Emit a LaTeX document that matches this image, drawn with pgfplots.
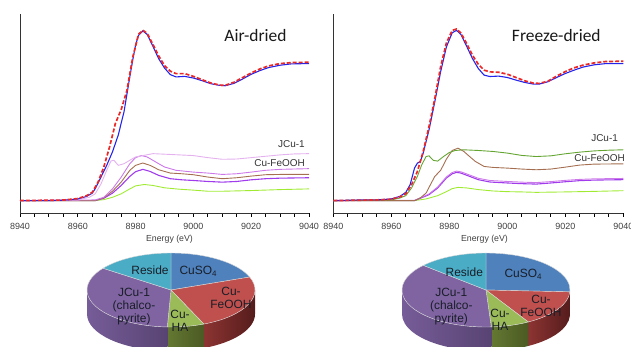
\documentclass[border=0pt]{standalone}
\usepackage{pgfplots}
\pgfplotsset{compat=1.18}
\usepackage{fontspec}
\setmainfont{Liberation Sans}
\newfontfamily\calfont{Carlito}

\definecolor{cblue}{RGB}{35,35,235}
\definecolor{cred}{RGB}{235,40,40}
\definecolor{clpink}{RGB}{228,178,238}
\definecolor{corchid}{RGB}{205,120,232}
\definecolor{cbrown}{RGB}{165,110,80}
\definecolor{cviolet}{RGB}{160,60,235}
\definecolor{clime}{RGB}{160,235,50}
\definecolor{colive}{RGB}{100,165,50}
\definecolor{pblue}{RGB}{79,129,189}
\definecolor{pred}{RGB}{192,80,77}
\definecolor{pgreen}{RGB}{155,187,89}
\definecolor{ppurple}{RGB}{128,100,162}
\definecolor{paqua}{RGB}{75,172,198}
\definecolor{ptext}{RGB}{25,30,40}
\definecolor{sredA}{RGB}{140,52,50}
\definecolor{sredB}{RGB}{85,28,28}
\definecolor{sgreenA}{RGB}{100,120,50}
\definecolor{sgreenB}{RGB}{75,90,35}
\definecolor{spurA}{RGB}{118,92,152}
\definecolor{spurB}{RGB}{88,68,115}
\definecolor{sblueA}{RGB}{60,95,140}
\definecolor{sblueB}{RGB}{50,80,120}

\pgfplotsset{spec/.style={scale only axis, width=289bp, height=199bp,
  xmin=8940, xmax=9040, ymin=-0.09, ymax=1.355,
  axis x line=bottom, axis y line=left,
  axis line style={-, line width=0.9pt, color=black!80},
  xtick={8940,8960,...,9040}, minor x tick num=3, ytick=\empty,
  tick align=outside, major tick length=4bp, minor tick length=4bp,
  major tick style={draw=black, line width=1pt},
  minor tick style={draw=black, line width=1pt},
  xticklabel style={font=\fontsize{9}{10}\selectfont, text=black!75, yshift=-3bp},
  /pgf/number format/assume math mode=true, /pgf/number format/1000 sep={},
  clip=false}}

% pie helpers: #1 cx, #2 cy, #3 start angle, #4 end angle, #5 colour
\newcommand\pietop[5]{%
  \fill[#5, draw=white!85!black, line width=0.4pt] (axis cs:#1,#2) -- ([shift={(#3:84bp and 37bp)}]axis cs:#1,#2)
    arc[start angle=#3, end angle=#4, x radius=84bp, y radius=37bp] -- cycle;}
\newcommand\pieside[6]{%
  \shade[left color=#5, right color=#6] ([shift={(#3:84bp and 37bp)}]axis cs:#1,#2)
    arc[start angle=#3, end angle=#4, x radius=84bp, y radius=37bp] -- ++(0,-24bp)
    arc[start angle=#4, end angle=#3, x radius=84bp, y radius=37bp] -- cycle;}

\begin{document}
\begin{tikzpicture}
\useasboundingbox (0,0) rectangle (631bp,347bp);
\clip (0,0) rectangle (631bp,347bp);

% ---------------- Air-dried ----------------
\begin{axis}[spec, at={(20bp,134bp)}, anchor=south west]
\addplot[clime, line width=0.9pt] table {
8940 0
8966 0
8969 0.007
8972 0.024
8975 0.049
8978 0.085
8980 0.107
8983 0.117
8986 0.110
8990 0.093
8995 0.083
9000 0.076
9005 0.068
9010 0.068
9020 0.073
9030 0.080
9040 0.085
};
\addplot[cviolet, line width=1.1pt] table {
8940 0
8966 0
8969 0.017
8972 0.054
8975 0.110
8978 0.176
8980 0.210
8982.5 0.227
8985 0.212
8988 0.183
8992 0.159
8996 0.151
9000 0.146
9005 0.139
9010 0.134
9015 0.139
9020 0.151
9025 0.159
9030 0.163
9040 0.166
};
\addplot[cbrown, line width=0.9pt] table {
8940 0
8966 0
8969 0.020
8972 0.068
8975 0.134
8978 0.220
8980 0.256
8982.5 0.273
8985 0.256
8988 0.224
8992 0.200
8996 0.195
9000 0.188
9005 0.171
9010 0.159
9015 0.166
9020 0.178
9025 0.188
9030 0.190
9040 0.190
};
\addplot[corchid, line width=0.9pt] table {
8940 0
8966 0.005
8969 0.024
8972 0.085
8975 0.170
8978 0.268
8980 0.312
8982 0.327
8984 0.317
8987 0.280
8990 0.244
8994 0.220
9000 0.207
9005 0.200
9010 0.190
9015 0.195
9020 0.207
9025 0.220
9030 0.227
9040 0.232
};
\addplot[clpink, line width=0.9pt] table {
8940 0
8960 0.005
8964 0.024
8966 0.049
8968 0.120
8970 0.220
8971.5 0.288
8972.5 0.293
8974 0.256
8976 0.268
8978 0.293
8980 0.317
8983 0.329
8986 0.341
8990 0.337
8995 0.332
9000 0.327
9005 0.312
9010 0.300
9015 0.302
9020 0.312
9025 0.322
9030 0.332
9035 0.339
9040 0.341
};
\addplot[cblue, line width=1.1pt] table {
8940 0
8950 0
8955 0.003
8960 0.012
8963 0.030
8965 0.054
8966 0.085
8968 0.170
8970 0.256
8972 0.354
8974 0.476
8976 0.646
8978 0.900
8979 1.020
8980 1.130
8981 1.200
8982.5 1.232
8984 1.207
8986 1.120
8988 1.030
8990 0.963
8992 0.915
8994 0.898
8997 0.902
9000 0.890
9003 0.871
9006 0.849
9009 0.837
9011 0.834
9014 0.851
9017 0.883
9020 0.917
9023 0.944
9026 0.966
9030 0.983
9034 0.993
9040 0.995
};
\addplot[cred, line width=1.7pt, dash pattern=on 4pt off 2pt] table {
8940 0
8955 0.004
8960 0.015
8963 0.035
8965 0.060
8967 0.134
8969 0.244
8971 0.390
8973 0.560
8975 0.660
8977 0.800
8979 1.040
8981 1.207
8982.5 1.237
8984 1.215
8986 1.134
8988 1.050
8990 0.980
8992 0.940
8994 0.922
8997 0.922
9000 0.902
9003 0.878
9006 0.854
9009 0.839
9011 0.837
9014 0.859
9017 0.893
9020 0.927
9023 0.956
9026 0.978
9030 0.995
9034 1.002
9040 1.005
};
\node[anchor=east, font=\fontsize{10}{11}\selectfont, text=black!80, inner sep=0pt] at (axis cs:9038.6,0.41) {JCu-1};
\node[anchor=east, font=\fontsize{10}{11}\selectfont, text=black!80, inner sep=0pt] at (axis cs:9038.6,0.271) {Cu-FeOOH};
\end{axis}

% ---------------- Freeze-dried ----------------
\begin{axis}[spec, at={(333.3bp,134bp)}, anchor=south west, width=290bp]
\addplot[clime, line width=0.9pt] table {
8940 0
8968 0
8972 0.012
8976 0.036
8979 0.065
8981 0.087
8983 0.096
8986 0.092
8990 0.080
8995 0.070
9000 0.065
9005 0.063
9010 0.060
9020 0.063
9030 0.067
9040 0.072
};
\addplot[cviolet, line width=1.1pt] table {
8940 0
8968 0
8970 0.017
8973 0.043
8976 0.092
8979 0.164
8981 0.195
8982.5 0.205
8984 0.200
8987 0.176
8990 0.152
8994 0.135
9000 0.128
9005 0.123
9010 0.120
9015 0.128
9020 0.137
9025 0.145
9030 0.149
9040 0.152
};
\addplot[corchid, line width=0.9pt] table {
8940 0
8968 0.002
8970 0.020
8973 0.048
8976 0.099
8979 0.172
8981 0.204
8982.5 0.214
8984 0.209
8987 0.186
8990 0.162
8994 0.146
9000 0.139
9005 0.134
9010 0.131
9015 0.138
9020 0.147
9025 0.154
9030 0.158
9040 0.161
};
\addplot[cbrown, line width=0.9pt] table {
8940 0
8968 0
8970 0.019
8972 0.055
8973.5 0.116
8975 0.176
8977 0.219
8979 0.301
8981 0.364
8983 0.381
8985 0.357
8987 0.320
8989 0.284
8992 0.248
8995 0.241
9000 0.236
9005 0.229
9010 0.224
9015 0.229
9020 0.243
9025 0.258
9030 0.265
9040 0.267
};
\addplot[colive, line width=0.9pt] table {
8940 0
8960 0.005
8963 0.019
8965 0.036
8967 0.092
8969 0.176
8970.5 0.260
8972 0.320
8973 0.325
8974.5 0.292
8976 0.287
8978 0.320
8980 0.349
8982 0.364
8985 0.369
8990 0.364
8995 0.357
9000 0.345
9005 0.328
9010 0.320
9015 0.325
9020 0.340
9025 0.352
9030 0.361
9035 0.366
9040 0.369
};
\addplot[cblue, line width=1.1pt] table {
8940 0
8950 0.005
8955 0.005
8960 0.012
8963 0.031
8965 0.060
8966.5 0.116
8968 0.236
8969 0.272
8970 0.284
8971 0.345
8973 0.513
8975 0.718
8977 0.935
8979 1.116
8981 1.219
8982.5 1.236
8984 1.207
8986 1.120
8988 1.031
8990 0.959
8992 0.911
8994 0.901
8997 0.904
9000 0.894
9003 0.875
9006 0.858
9009 0.846
9011 0.846
9014 0.863
9017 0.894
9020 0.923
9023 0.947
9026 0.969
9030 0.986
9034 0.995
9040 0.995
};
\addplot[cred, line width=1.7pt, dash pattern=on 4pt off 2pt] table {
8940 0
8955 0.005
8960 0.010
8963 0.027
8965 0.050
8967 0.116
8969 0.212
8971 0.357
8973 0.537
8975 0.742
8977 0.971
8979 1.145
8981 1.236
8982.5 1.246
8984 1.217
8986 1.140
8988 1.055
8990 0.990
8992 0.947
8994 0.935
8997 0.932
9000 0.918
9003 0.894
9006 0.870
9009 0.853
9011 0.851
9014 0.867
9017 0.904
9020 0.937
9023 0.964
9026 0.983
9030 1.000
9034 1.010
9040 1.012
};
\node[anchor=east, font=\fontsize{10}{11}\selectfont, text=black!80, inner sep=0pt] at (axis cs:9038.2,0.455) {JCu-1};
\node[anchor=east, font=\fontsize{10}{11}\selectfont, text=black!80, inner sep=0pt] at (axis cs:9040.6,0.311) {Cu-FeOOH};
\end{axis}

% ---------------- Pie charts (shares in percent) ----------------
% Air-dried: CuSO4 19.3, Cu-FeOOH 24.3, Cu-HA 7.1, JCu-1 34.3, Reside 15.0
\pgfmathsetmacro\LA{90-3.6*19.3}
\pgfmathsetmacro\LB{\LA-3.6*24.3}
\pgfmathsetmacro\LC{\LB-3.6*7.1}
\pgfmathsetmacro\LD{\LC-3.6*34.3}
\pgfmathsetmacro\LE{\LD-3.6*15.0}
% Freeze-dried: CuSO4 25.8, Cu-FeOOH 15.8, Cu-HA 7.4, JCu-1 37.6, Reside 13.4
\pgfmathsetmacro\RA{90-3.6*25.8}
\pgfmathsetmacro\RB{\RA-3.6*15.8}
\pgfmathsetmacro\RC{\RB-3.6*7.4}
\pgfmathsetmacro\RD{\RC-3.6*37.6}
\pgfmathsetmacro\RE{\RD-3.6*13.4}

\begin{axis}[at={(0,0)}, anchor=south west, scale only axis, width=631bp, height=347bp,
  xmin=0, xmax=631, ymin=0, ymax=347, hide axis, clip=false]
% air-dried pie
\pieside{171}{57}{0}{\LB}{sredA}{sredB}
\pieside{171}{57}{\LB}{\LC}{sgreenA}{sgreenB}
\pieside{171}{57}{\LC}{-180}{spurA}{spurB}
\pietop{171}{57}{90}{\LA}{pblue}
\pietop{171}{57}{\LA}{\LB}{pred}
\pietop{171}{57}{\LB}{\LC}{pgreen}
\pietop{171}{57}{\LC}{\LD}{ppurple}
\pietop{171}{57}{\LD}{\LE}{paqua}
% freeze-dried pie
\pieside{486}{57}{0}{\RA}{sblueA}{sblueB}
\pieside{486}{57}{\RA}{\RB}{sredA}{sredB}
\pieside{486}{57}{\RB}{\RC}{sgreenA}{sgreenB}
\pieside{486}{57}{\RC}{-180}{spurA}{spurB}
\pietop{486}{57}{90}{\RA}{pblue}
\pietop{486}{57}{\RA}{\RB}{pred}
\pietop{486}{57}{\RB}{\RC}{pgreen}
\pietop{486}{57}{\RC}{\RD}{ppurple}
\pietop{486}{57}{\RD}{\RE}{paqua}

\node[font=\fontsize{12}{13.3}\selectfont, text=ptext, align=center, inner sep=0pt] at (150,76.3) {Reside};
\node[font=\fontsize{12}{13.3}\selectfont, text=ptext, align=center, inner sep=0pt] at (198.3,75.3) {CuSO\textsubscript{4}};
\node[font=\fontsize{12}{13.3}\selectfont, text=ptext, align=center, inner sep=0pt] at (231,48.8) {Cu-\\FeOOH};
\node[font=\fontsize{12}{13.3}\selectfont, text=ptext, align=center, inner sep=0pt] at (134,40.3) {JCu-1\\(chalco-\\pyrite)};
\node[font=\fontsize{12}{13.3}\selectfont, text=ptext, align=center, inner sep=0pt] at (180,25.8) {Cu-\\HA};

\node[font=\fontsize{12}{13.3}\selectfont, text=ptext, align=center, inner sep=0pt] at (464.3,74.7) {Reside};
\node[font=\fontsize{12}{13.3}\selectfont, text=ptext, align=center, inner sep=0pt] at (523.3,73) {CuSO\textsubscript{4}};
\node[font=\fontsize{12}{13.3}\selectfont, text=ptext, align=center, inner sep=0pt] at (541,41) {Cu-\\FeOOH};
\node[font=\fontsize{12}{13.3}\selectfont, text=ptext, align=center, inner sep=0pt] at (451.3,40.3) {JCu-1\\(chalco-\\pyrite)};
\node[font=\fontsize{12}{13.3}\selectfont, text=ptext, align=center, inner sep=0pt] at (500,27) {Cu-\\HA};

% titles and axis labels
\node[anchor=base, font=\calfont\fontsize{17.5}{20}\selectfont, text=black!90] at (255.5,305.3) {Air-dried};
\node[anchor=base, font=\calfont\fontsize{17.5}{20}\selectfont, text=black!90] at (556.3,305.3) {Freeze-dried};
\node[font=\fontsize{8.8}{10}\selectfont, text=black!75] at (169.5,108) {Energy (eV)};
\node[font=\fontsize{8.8}{10}\selectfont, text=black!75] at (484.5,108) {Energy (eV)};
\end{axis}
\end{tikzpicture}
\end{document}
